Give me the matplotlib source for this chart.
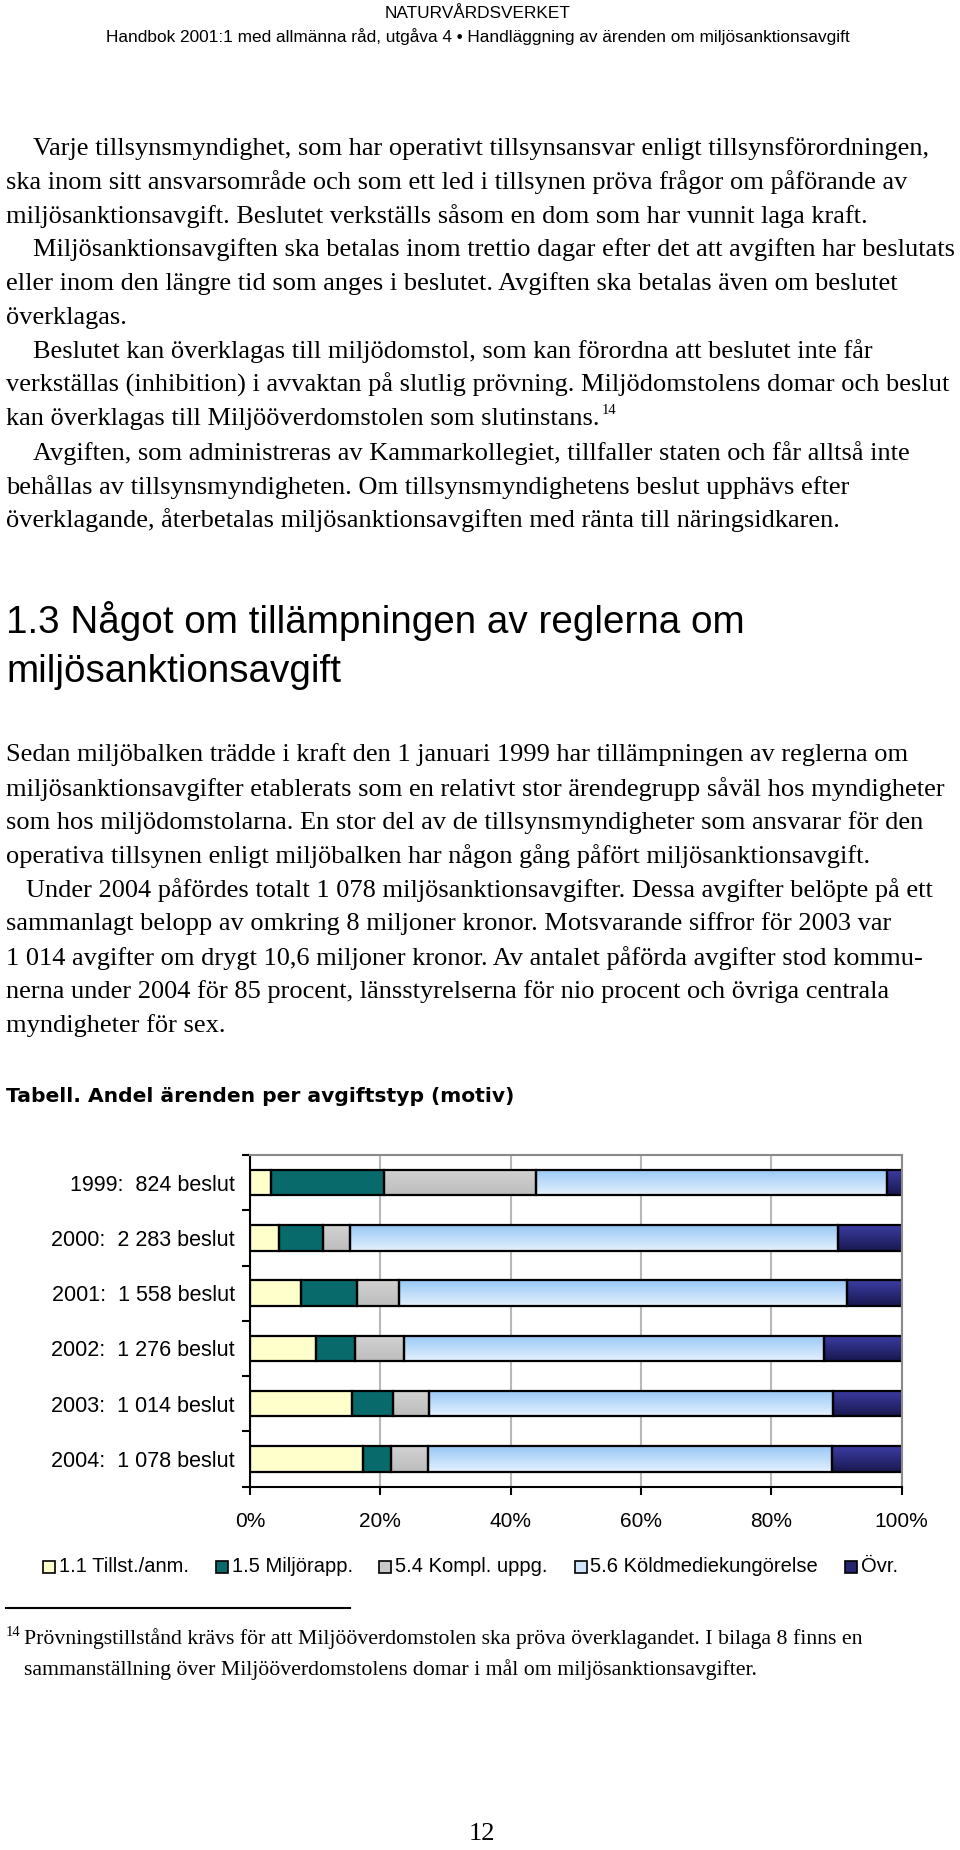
import matplotlib.pyplot as plt
import numpy as np
from matplotlib.colors import LinearSegmentedColormap
from matplotlib.lines import Line2D
from matplotlib.patches import Rectangle

W, H = 960, 1850

# ---- page text ----
header_top = "NATURVÅRDSVERKET"
header_sub = "Handbok 2001:1 med allmänna råd, utgåva 4 • Handläggning av ärenden om miljösanktionsavgift"

para1 = [
    "Varje tillsynsmyndighet, som har operativt tillsynsansvar enligt tillsynsförordningen,",
    "ska inom sitt ansvarsområde och som ett led i tillsynen pröva frågor om påförande av",
    "miljösanktionsavgift. Beslutet verkställs såsom en dom som har vunnit laga kraft.",
    "Miljösanktionsavgiften ska betalas inom trettio dagar efter det att avgiften har beslutats",
    "eller inom den längre tid som anges i beslutet. Avgiften ska betalas även om beslutet",
    "överklagas.",
    "Beslutet kan överklagas till miljödomstol, som kan förordna att beslutet inte får",
    "verkställas (inhibition) i avvaktan på slutlig prövning. Miljödomstolens domar och beslut",
    "kan överklagas till Miljööverdomstolen som slutinstans.",
    "Avgiften, som administreras av Kammarkollegiet, tillfaller staten och får alltså inte",
    "behållas av tillsynsmyndigheten. Om tillsynsmyndighetens beslut upphävs efter",
    "överklagande, återbetalas miljösanktionsavgiften med ränta till näringsidkaren.",
]
para1_indent = [1, 0, 0, 1, 0, 0, 1, 0, 0, 1, 0, 0]

heading = ["1.3 Något om tillämpningen av reglerna om", "miljösanktionsavgift"]

para2 = [
    "Sedan miljöbalken trädde i kraft den 1 januari 1999 har tillämpningen av reglerna om",
    "miljösanktionsavgifter etablerats som en relativt stor ärendegrupp såväl hos myndigheter",
    "som hos miljödomstolarna. En stor del av de tillsynsmyndigheter som ansvarar för den",
    "operativa tillsynen enligt miljöbalken har någon gång påfört miljösanktionsavgift.",
    "Under 2004 påfördes totalt 1 078 miljösanktionsavgifter. Dessa avgifter belöpte på ett",
    "sammanlagt belopp av omkring 8 miljoner kronor. Motsvarande siffror för 2003 var",
    "1 014 avgifter om drygt 10,6 miljoner kronor. Av antalet påförda avgifter stod kommu-",
    "nerna under 2004 för 85 procent, länsstyrelserna för nio procent och övriga centrala",
    "myndigheter för sex.",
]
para2_indent = [0, 0, 0, 0, 1, 0, 0, 0, 0]

table_title = "Tabell. Andel ärenden per avgiftstyp (motiv)"

footnote = [
    "Prövningstillstånd krävs för att Miljööverdomstolen ska pröva överklagandet. I bilaga 8 finns en",
    "sammanställning över Miljööverdomstolens domar i mål om miljösanktionsavgifter.",
]

# ---- chart data (percent of decisions per fee type) ----
years = ["1999:  824 beslut", "2000:  2 283 beslut", "2001:  1 558 beslut",
         "2002:  1 276 beslut", "2003:  1 014 beslut", "2004:  1 078 beslut"]
tillst = [3.2, 4.5, 7.9, 10.1, 15.7, 17.4]
miljorapp = [17.4, 6.7, 8.5, 6.0, 6.3, 4.3]
kompl = [23.3, 4.2, 6.4, 7.6, 5.5, 5.6]
kold = [53.9, 74.8, 68.8, 64.4, 62.0, 62.0]
ovr = [2.2, 9.8, 8.4, 11.9, 10.5, 10.7]
series_names = ["1.1 Tillst./anm.", "1.5 Miljörapp.", "5.4 Kompl. uppg.",
                "5.6 Köldmediekungörelse", "Övr."]
xticks = [0, 20, 40, 60, 80, 100]

fig = plt.figure(figsize=(W / 100, H / 100), dpi=100)
fig.patch.set_facecolor("white")
renderer = fig.canvas.get_renderer()


def put(x, y, s, **kw):
    kw.setdefault("va", "center")
    return fig.text(x / W, 1 - y / H, s, **kw)


serif = "Liberation Serif"
sans = "Liberation Sans"
body_fs = 19

put(478, 13, header_top, ha="center", family=sans, fontsize=12.4)
put(478, 37, header_sub, ha="center", family=sans, fontsize=12.4)

for i, line in enumerate(para1):
    x = 33 if para1_indent[i] else 6
    t = put(x, 148.6 + i * 33.8, line, family=serif, fontsize=body_fs)
    if line.endswith("slutinstans."):
        # footnote reference right after the sentence
        bb = t.get_window_extent(renderer)
        put(bb.x1 + 2, 410, "14", family=serif, fontsize=10.5)

put(6, 621, heading[0], family=sans, fontsize=27.8)
put(6, 672, heading[1], family=sans, fontsize=27.8)

for i, line in enumerate(para2):
    x = 26 if para2_indent[i] else 6
    put(x, 754.8 + i * 33.8, line, family=serif, fontsize=body_fs)

put(6, 1096, table_title, family="DejaVu Sans", fontweight="bold", fontsize=14.6)

# footnote rule and text
fig.add_artist(Line2D([6 / W, 350 / W], [1 - 1608 / H] * 2, color="black", lw=1.5,
                      transform=fig.transFigure))
put(6, 1632, "14", family=serif, fontsize=10.5)
put(24, 1639, footnote[0], family=serif, fontsize=15.7)
put(24, 1670, footnote[1], family=serif, fontsize=15.7)

put(482, 1834, "12", ha="center", family=serif, fontsize=body_fs)

# ---- chart ----
ax = fig.add_axes([250 / W, 1 - 1486.7 / H, 651.7 / W, 331.7 / H])
y = np.arange(len(years))
series = [tillst, miljorapp, kompl, kold, ovr]
colors = ["#ffffcc", "#086a6a", "#c9c9c9", "#bcdcfa", "#26266e"]
grad = {2: ["#d2d2d2", "#bdbdbd"], 3: ["#98c8f6", "#e4f1fd"], 4: ["#3d3da4", "#181850"]}

left = np.zeros(len(years))
bh = 0.46
for k, vals in enumerate(series):
    bars = ax.barh(y, vals, left=left, height=bh, color=colors[k], edgecolor="none", zorder=1)
    if k in grad:
        cmap = LinearSegmentedColormap.from_list("g%d" % k, grad[k])
        g = np.linspace(0, 1, 64).reshape(-1, 1)
        for p in bars:
            x0, y0, w, h = p.get_x(), p.get_y(), p.get_width(), p.get_height()
            im = ax.imshow(g, extent=(x0, x0 + w, y0 + h, y0), origin="upper",
                           aspect="auto", cmap=cmap, zorder=1.5, interpolation="bilinear")
            im.set_clip_path(p)
    ax.barh(y, vals, left=left, height=bh, fill=False, edgecolor="black", lw=1.6, zorder=2)
    left += np.array(vals)

ax.set_xlim(0, 100)
ax.set_ylim(len(years) - 0.5, -0.5)
ax.set_aspect("auto")

ax.set_xticks(xticks)
ax.set_xticklabels(["%d%%" % v for v in xticks], family=sans, fontsize=15)
ax.tick_params(axis="x", direction="out", length=6, width=1.5, pad=12, colors="black")
ax.set_yticks(y)
ax.set_yticklabels(years, family=sans, fontsize=15.5)
ax.tick_params(axis="y", which="major", length=0, pad=11)
ax.set_yticks(np.arange(-0.5, len(years), 1.0), minor=True)
ax.tick_params(axis="y", which="minor", direction="out", length=6, width=1.5)

ax.xaxis.grid(True, color="#b8b8b8", lw=1.5)
ax.set_axisbelow(True)
for side in ["left", "bottom"]:
    ax.spines[side].set_color("black")
    ax.spines[side].set_linewidth(1.5)
for side in ["top", "right"]:
    ax.spines[side].set_color("#8a8a8a")
    ax.spines[side].set_linewidth(1.5)

# legend below the chart: square + label per series, spread from x=43 to x=898
leg_colors = ["#ffffcc", "#086a6a", "#c9c9c9", "#cfe6fc", "#26266e"]
ly, sq, gap = 1567, 12, 4
labels = [put(0, ly, name, family=sans, fontsize=14.5) for name in series_names]
widths = [t.get_window_extent(renderer).width for t in labels]
spacing = (898 - 43 - sum(sq + gap + w for w in widths)) / (len(widths) - 1)
lx = 43
for t, c, w in zip(labels, leg_colors, widths):
    fig.add_artist(Rectangle((lx / W, 1 - (ly + sq / 2) / H), sq / W, sq / H,
                             facecolor=c, edgecolor="black", lw=1.2,
                             transform=fig.transFigure))
    t.set_x((lx + sq + gap) / W)
    lx += sq + gap + w + spacing

fig.savefig("out.png", dpi=100)
